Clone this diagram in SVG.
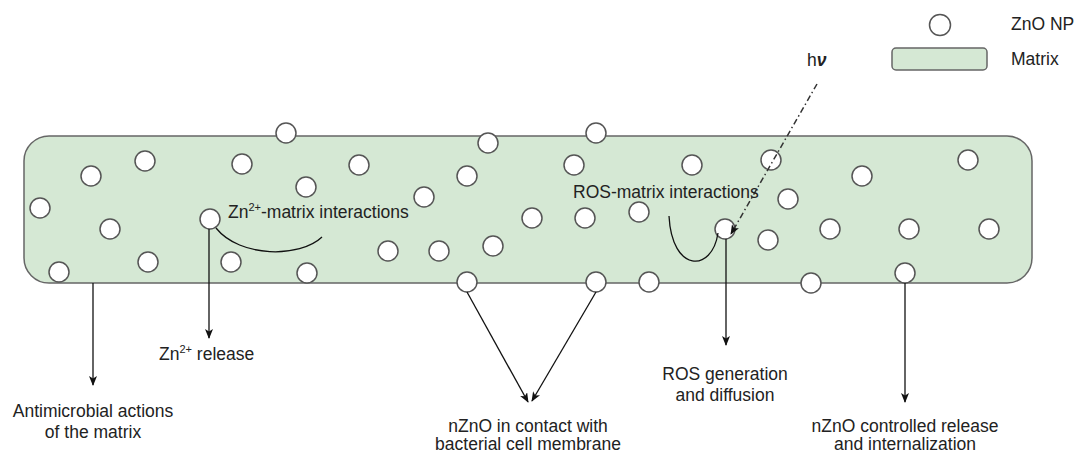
<svg xmlns="http://www.w3.org/2000/svg" width="1081" height="452" viewBox="0 0 1081 452">
<defs>
<style>
.np{fill:#ffffff;stroke:#555555;stroke-width:1.5}
.mx{fill:#d5e8d4;stroke:#666666;stroke-width:1.5}
.t{font-family:"Liberation Sans",Arial,sans-serif;font-size:17.5px;fill:#222222}
.c{text-anchor:middle}
.ln{stroke:#111111;stroke-width:1.3;fill:none}
.dd{stroke:#333333;stroke-width:1.5;fill:none;stroke-dasharray:6 3 1.5 3}
</style>
<marker id="ah" markerWidth="10" markerHeight="8" refX="9" refY="4" orient="auto" markerUnits="userSpaceOnUse">
<path d="M0,0 L10,4 L0,8 L2.5,4 Z" fill="#111111"/>
</marker>
</defs>
<rect width="1081" height="452" fill="#ffffff"/>

<g id="legend">
<circle class="np" cx="940" cy="25" r="10.5"/>
<text class="t" x="1011" y="30">ZnO NP</text>
<rect class="mx" x="892" y="48" width="95" height="22" rx="4"/>
<text class="t" x="1011" y="65">Matrix</text>
</g>

<g id="matrix">
<rect class="mx" x="24" y="136" width="1008" height="147" rx="25"/>
</g>

<g id="nanoparticles">
<circle class="np" cx="286" cy="133" r="10"/>
<circle class="np" cx="488" cy="143" r="10"/>
<circle class="np" cx="596" cy="133" r="10"/>
<circle class="np" cx="91" cy="176" r="10"/>
<circle class="np" cx="145" cy="161" r="10"/>
<circle class="np" cx="242" cy="164" r="10"/>
<circle class="np" cx="306" cy="187" r="10"/>
<circle class="np" cx="359" cy="165" r="10"/>
<circle class="np" cx="424" cy="197" r="10"/>
<circle class="np" cx="467" cy="176" r="10"/>
<circle class="np" cx="574" cy="165" r="10"/>
<circle class="np" cx="692" cy="165" r="10"/>
<circle class="np" cx="771" cy="160" r="10"/>
<circle class="np" cx="862" cy="176" r="10"/>
<circle class="np" cx="968" cy="160" r="10"/>
<circle class="np" cx="40" cy="208" r="10"/>
<circle class="np" cx="110" cy="229" r="10"/>
<circle class="np" cx="210" cy="219" r="10"/>
<circle class="np" cx="532" cy="218" r="10"/>
<circle class="np" cx="585" cy="218" r="10"/>
<circle class="np" cx="639" cy="212" r="10"/>
<circle class="np" cx="788" cy="199" r="10"/>
<circle class="np" cx="725" cy="229" r="10"/>
<circle class="np" cx="768" cy="240" r="10"/>
<circle class="np" cx="830" cy="229" r="10"/>
<circle class="np" cx="909" cy="229" r="10"/>
<circle class="np" cx="989" cy="229" r="10"/>
<circle class="np" cx="388" cy="251" r="10"/>
<circle class="np" cx="439" cy="251" r="10"/>
<circle class="np" cx="493" cy="246" r="10"/>
<circle class="np" cx="148" cy="262" r="10"/>
<circle class="np" cx="231" cy="262" r="10"/>
<circle class="np" cx="59" cy="272" r="10"/>
<circle class="np" cx="307" cy="273" r="10"/>
<circle class="np" cx="467" cy="282" r="10"/>
<circle class="np" cx="596" cy="282" r="10"/>
<circle class="np" cx="649" cy="282" r="10"/>
<circle class="np" cx="811" cy="283" r="10"/>
<circle class="np" cx="905" cy="273" r="10"/>
</g>

<g id="connectors">
<line class="ln" x1="93" y1="283" x2="93" y2="385" marker-end="url(#ah)"/>
<line class="ln" x1="209" y1="229" x2="209" y2="338" marker-end="url(#ah)"/>
<line class="ln" x1="467" y1="292" x2="528" y2="402" marker-end="url(#ah)"/>
<line class="ln" x1="596" y1="292" x2="532" y2="401" marker-end="url(#ah)"/>
<line class="ln" x1="726" y1="239" x2="726" y2="345" marker-end="url(#ah)"/>
<line class="ln" x1="905" y1="283" x2="905" y2="402" marker-end="url(#ah)"/>
<path class="ln" d="M216,228 C240,258 300,258 322,237"/>
<path class="ln" d="M669,216 C672,273 712,273 718,233"/>
<line class="dd" x1="817" y1="84" x2="731" y2="234" marker-end="url(#ah)"/>
</g>

<g id="labels">
<text class="t" x="228" y="218">Zn<tspan font-size="11" dy="-7">2+</tspan><tspan dy="7">-matrix interactions</tspan></text>
<text class="t" x="573" y="198">ROS-matrix interactions</text>
<text class="t" x="807" y="66">h<tspan font-weight="bold" font-style="italic">ν</tspan></text>
<text class="t c" x="93" y="417">Antimicrobial actions</text>
<text class="t c" x="93" y="438">of the matrix</text>
<text class="t" x="159" y="360">Zn<tspan font-size="11" dy="-7">2+</tspan><tspan dy="7"> release</tspan></text>
<text class="t c" x="528" y="432">nZnO in contact with</text>
<text class="t c" x="528" y="450">bacterial cell membrane</text>
<text class="t c" x="725" y="380">ROS generation</text>
<text class="t c" x="725" y="401">and diffusion</text>
<text class="t c" x="905" y="432">nZnO controlled release</text>
<text class="t c" x="905" y="450">and internalization</text>
</g>
</svg>
